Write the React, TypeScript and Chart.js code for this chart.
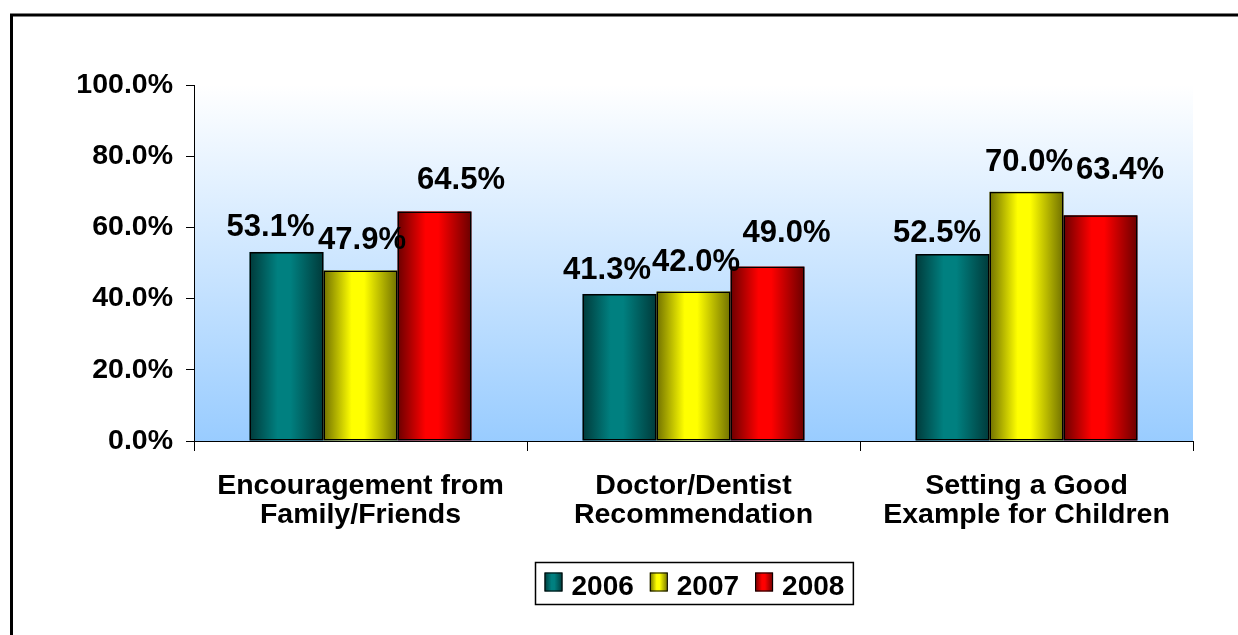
import React, { useEffect, useRef } from 'react';
import { Chart, registerables } from 'chart.js';

Chart.register(...registerables);

// ---- data ----
const categories: string[][] = [
  ['Encouragement from', 'Family/Friends'],
  ['Doctor/Dentist', 'Recommendation'],
  ['Setting a Good', 'Example for Children'],
];
const seriesNames = ['2006', '2007', '2008'];
const values2006 = [53.1, 41.3, 52.5];
const values2007 = [47.9, 42.0, 70.0];
const values2008 = [64.5, 49.0, 63.4];
const yTicks = [0, 20, 40, 60, 80, 100];

// label nudges (horizontal shift, gap above bar) per series, per category
const labelDx = [
  [-16, -12.5, -15.5],
  [1.5, 2.5, 2.5],
  [26.5, 19, 19.5],
];
const labelGap = [
  [15.5, 15, 12.6],
  [21.7, 20, 21],
  [22, 25, 36],
];

const palette = [
  { bright: '#008080', dark: '#003a3a' },
  { bright: '#ffff00', dark: '#707000' },
  { bright: '#ff0000', dark: '#6a0000' },
];

const FONT = '"Liberation Sans", Arial, Helvetica, sans-serif';

function barGradient(ctx: CanvasRenderingContext2D, left: number, right: number, c: { bright: string; dark: string }) {
  const g = ctx.createLinearGradient(left, 0, right, 0);
  g.addColorStop(0, c.dark);
  g.addColorStop(0.38, c.bright);
  g.addColorStop(0.55, c.bright);
  g.addColorStop(1, c.dark);
  return g;
}

const framePlugin = {
  id: 'frameAndBg',
  beforeDraw(chart: any) {
    const { ctx, chartArea, width, height } = chart;
    ctx.save();
    ctx.fillStyle = '#ffffff';
    ctx.fillRect(0, 0, width, height);
    // outer frame: only its left and top edges fall inside the picture
    ctx.strokeStyle = '#000000';
    ctx.lineWidth = 3;
    ctx.beginPath();
    ctx.moveTo(11.5, height + 10);
    ctx.lineTo(11.5, 15);
    ctx.lineTo(width + 10, 15);
    ctx.stroke();
    // plot area gradient
    const g = ctx.createLinearGradient(0, chartArea.top, 0, chartArea.bottom);
    g.addColorStop(0, '#ffffff');
    g.addColorStop(1, '#99ccff');
    ctx.fillStyle = g;
    ctx.fillRect(chartArea.left, chartArea.top, chartArea.right - chartArea.left, chartArea.bottom - chartArea.top);
    ctx.restore();
  },
};

const barFillPlugin = {
  id: 'barFill',
  beforeDatasetsDraw(chart: any) {
    const { ctx } = chart;
    ctx.save();
    chart.data.datasets.forEach((ds: any, di: number) => {
      const meta = chart.getDatasetMeta(di);
      meta.data.forEach((el: any) => {
        const { x, y, base, width } = el.getProps(['x', 'y', 'base', 'width'], true);
        const left = x - width / 2;
        ctx.fillStyle = barGradient(ctx, left, left + width, palette[di]);
        ctx.fillRect(left, Math.min(y, base), width, Math.abs(base - y));
      });
    });
    ctx.restore();
  },
};

const labelPlugin = {
  id: 'valueLabels',
  afterDatasetsDraw(chart: any) {
    const { ctx } = chart;
    ctx.save();
    ctx.font = `bold 31px ${FONT}`;
    ctx.fillStyle = '#000000';
    ctx.textAlign = 'center';
    ctx.textBaseline = 'alphabetic';
    chart.data.datasets.forEach((ds: any, di: number) => {
      const meta = chart.getDatasetMeta(di);
      meta.data.forEach((el: any, i: number) => {
        const { x, y } = el.getProps(['x', 'y'], true);
        const v = ds.data[i] as number;
        ctx.fillText(v.toFixed(1) + '%', x + labelDx[di][i], y - labelGap[di][i]);
      });
    });
    ctx.restore();
  },
};

const legendPlugin = {
  id: 'boxLegend',
  afterDraw(chart: any) {
    const { ctx, chartArea } = chart;
    ctx.save();
    ctx.font = `bold 28px ${FONT}`;
    const sw = 18;
    const gapSwText = 9;
    const gapItems = 16;
    const padX = 9;
    const widths = seriesNames.map((n) => ctx.measureText(n).width);
    let total = padX * 2 + gapItems * (seriesNames.length - 1);
    widths.forEach((w) => (total += sw + gapSwText + w));
    const cx = (chartArea.left + chartArea.right) / 2;
    const left = Math.round(cx - total / 2) + 0.5;
    const top = chartArea.bottom + 121.5;
    const h = 42;
    ctx.fillStyle = '#ffffff';
    ctx.fillRect(left, top, total, h);
    ctx.strokeStyle = '#000000';
    ctx.lineWidth = 1.5;
    ctx.strokeRect(left, top, total, h);
    let x = left + padX;
    seriesNames.forEach((n, i) => {
      const sy = top + 10;
      ctx.fillStyle = barGradient(ctx, x, x + sw, palette[i]);
      ctx.fillRect(x, sy, sw, 19);
      ctx.lineWidth = 1;
      ctx.strokeStyle = '#000000';
      ctx.strokeRect(x + 0.5, sy + 0.5, sw - 1, 18);
      x += sw + gapSwText;
      ctx.fillStyle = '#000000';
      ctx.textAlign = 'left';
      ctx.textBaseline = 'alphabetic';
      ctx.fillText(n, x, top + 32);
      x += widths[i] + gapItems;
    });
    ctx.restore();
  },
};

export default function App() {
  const ref = useRef<HTMLCanvasElement | null>(null);

  useEffect(() => {
    if (!ref.current) return;
    const seriesValues = [values2006, values2007, values2008];
    const chart = new Chart(ref.current, {
      type: 'bar',
      data: {
        labels: categories,
        datasets: seriesNames.map((name, i) => ({
          label: name,
          data: seriesValues[i],
          backgroundColor: 'rgba(0,0,0,0)',
          borderColor: '#000000',
          borderWidth: 1.5,
          borderSkipped: false,
          categoryPercentage: 2 / 3,
          barPercentage: 1,
        })),
      },
      options: {
        responsive: false,
        animation: false,
        devicePixelRatio: 1,
        layout: { padding: { top: 85, right: 45, left: 0, bottom: 0 } },
        plugins: {
          legend: { display: false },
          tooltip: { enabled: false },
        },
        scales: {
          x: {
            offset: true,
            grid: {
              offset: true,
              drawOnChartArea: false,
              drawTicks: true,
              tickLength: 10,
              color: '#000000',
            },
            border: { display: true, color: '#000000', width: 1 },
            ticks: {
              color: '#000000',
              padding: 21,
              maxRotation: 0,
              autoSkip: false,
              font: { family: FONT, size: 28.5, weight: 'bold', lineHeight: 1.0 },
            },
            afterFit(scale: any) {
              scale.height = 194;
            },
          },
          y: {
            min: 0,
            max: 100,
            grid: {
              drawOnChartArea: false,
              drawTicks: true,
              tickLength: 8,
              color: '#000000',
            },
            border: { display: true, color: '#000000', width: 1 },
            ticks: {
              color: '#000000',
              padding: 13,
              font: { family: FONT, size: 28.5, weight: 'bold' },
              callback: (v: any) => Number(v).toFixed(1) + '%',
            },
            afterBuildTicks(scale: any) {
              scale.ticks = yTicks.map((v) => ({ value: v }));
            },
            afterFit(scale: any) {
              scale.width = 194;
            },
          },
        },
      },
      plugins: [framePlugin, barFillPlugin, labelPlugin, legendPlugin],
    } as any);
    return () => chart.destroy();
  }, []);

  return (
    <div style={{ position: 'fixed', left: 0, top: 0, width: 1238, height: 635, overflow: 'hidden', background: '#fff' }}>
      <canvas ref={ref} width={1238} height={635} style={{ display: 'block' }} />
    </div>
  );
}
